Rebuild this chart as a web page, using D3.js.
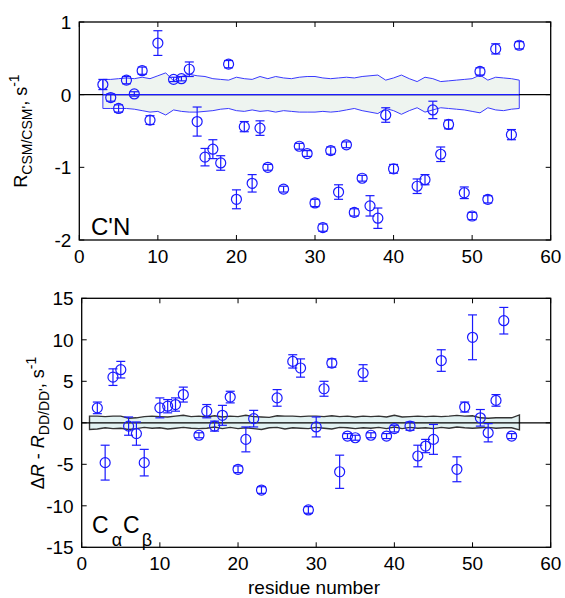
<!DOCTYPE html>
<html lang="en">
<head>
    <meta charset="utf-8">
    <title>CSM cross-correlation rates</title>
    <script type="text/javascript" src="https://d3js.org/d3.v7.min.js"></script>
    <style>
        body { margin: 0; background: #fff; }
        text { font-family: "Liberation Sans", Arial, sans-serif; fill: #000; }
        .tick-label { font-size: 19px; }
        .frame { fill: none; stroke: #000; stroke-width: 1.3; }
        .pt { fill: none; stroke: #1a1aff; stroke-width: 1.2; }
    </style>
</head>
<body>
<div id="container"></div>
<script type="text/javascript">
    // top panel: C'N
    const topRes = [3, 4, 5, 6, 7, 8, 9, 10, 12, 13, 14, 15, 16, 17, 18, 19, 20, 21, 22, 23, 24, 26, 28, 29, 30,
        31, 32, 33, 34, 35, 36, 37, 38, 39, 40, 43, 44, 45, 46, 47, 49, 50, 51, 52, 53, 55, 56];
    const topVal = [0.14, -0.04, -0.19, 0.20, 0.01, 0.33, -0.35, 0.71, 0.21, 0.22, 0.35, -0.37, -0.86, -0.75, -0.94,
        0.42, -1.44, -0.44, -1.22, -0.46, -1.00, -1.30, -0.71, -0.81, -1.49, -1.83, -0.77, -1.34, -0.69, -1.62,
        -1.15, -1.53, -1.70, -0.28, -1.02, -1.26, -1.17, -0.21, -0.82, -0.41, -1.35, -1.67, 0.32, -1.44, 0.63,
        -0.55, 0.68];
    const topErr = [0.07, 0.05, 0.05, 0.05, 0.03, 0.05, 0.06, 0.17, 0.03, 0.03, 0.10, 0.20, 0.12, 0.13, 0.10,
        0.05, 0.13, 0.07, 0.12, 0.10, 0.04, 0.04, 0.04, 0.04, 0.05, 0.05, 0.05, 0.10, 0.04, 0.05,
        0.04, 0.14, 0.14, 0.10, 0.06, 0.10, 0.07, 0.12, 0.10, 0.06, 0.08, 0.05, 0.05, 0.05, 0.07,
        0.07, 0.05];
    // confidence band, residues 3..56
    const topBandUp = [0.21, 0.21, 0.22, 0.23, 0.22, 0.24, 0.22, 0.26, 0.30, 0.19, 0.25, 0.28, 0.26, 0.25, 0.22,
        0.21, 0.20, 0.24, 0.22, 0.21, 0.25, 0.22, 0.25, 0.23, 0.22, 0.24, 0.25, 0.25, 0.23, 0.22,
        0.23, 0.24, 0.23, 0.25, 0.26, 0.27, 0.20, 0.23, 0.27, 0.22, 0.18, 0.24, 0.22, 0.18, 0.19,
        0.20, 0.21, 0.22, 0.27, 0.20, 0.24, 0.23, 0.22, 0.20];
    const topBandLo = [-0.19, -0.19, -0.19, -0.19, -0.20, -0.22, -0.24, -0.23, -0.28, -0.21, -0.23, -0.24, -0.24,
        -0.23, -0.22, -0.20, -0.19, -0.22, -0.23, -0.21, -0.23, -0.22, -0.24, -0.22, -0.23, -0.24, -0.24,
        -0.24, -0.23, -0.24, -0.23, -0.21, -0.19, -0.22, -0.24, -0.26, -0.19, -0.22, -0.27, -0.22, -0.18,
        -0.24, -0.21, -0.18, -0.19, -0.20, -0.21, -0.23, -0.25, -0.18, -0.21, -0.22, -0.20, -0.19];

    // bottom panel: CaCb
    const botRes = [2, 3, 4, 5, 6, 7, 8, 10, 11, 12, 13, 15, 16, 17, 18, 19, 20, 21, 22, 23, 25, 27, 28, 29, 30,
        31, 32, 33, 34, 35, 36, 37, 39, 40, 42, 43, 44, 45, 46, 48, 49, 50, 51, 52, 53, 54, 55];
    const botVal = [1.8, -4.8, 5.5, 6.4, -0.4, -1.3, -4.8, 1.8, 2.0, 2.2, 3.4, -1.5, 1.4, -0.4, 0.9, 3.1, -5.6,
        -2.0, 0.5, -8.1, 3.0, 7.4, 6.6, -10.5, -0.5, 4.1, 7.2, -5.9, -1.6, -1.8, 6.0, -1.5, -1.6, -0.7,
        -0.4, -4.0, -2.8, -2.0, 7.5, -5.6, 1.9, 10.3, 0.6, -1.2, 2.7, 12.3, -1.6];
    const botErr = [0.7, 2.1, 1.0, 1.0, 1.1, 1.4, 1.6, 1.2, 0.8, 0.8, 0.9, 0.3, 0.8, 0.6, 1.2, 0.7, 0.4,
        1.5, 1.0, 0.4, 1.0, 0.8, 1.1, 0.4, 1.2, 0.9, 0.5, 2.0, 0.3, 0.3, 1.0, 0.3, 0.3, 0.4,
        0.5, 1.3, 0.8, 1.8, 1.3, 1.5, 0.6, 2.7, 1.0, 1.1, 0.7, 1.6, 0.3];
    // confidence band, residues 1..56
    const botBandUp = [0.8, 0.8, 0.75, 0.8, 0.8, 0.55, 0.6, 0.75, 0.8, 0.75, 0.7, 0.8, 0.9, 0.75, 0.8, 0.7,
        0.85, 0.7, 0.8, 0.75, 0.9, 0.75, 0.7, 0.65, 0.85, 0.8, 0.8, 0.75, 0.8, 0.8, 0.75, 0.85, 0.75,
        0.8, 0.7, 0.8, 0.75, 0.8, 0.7, 0.9, 0.7, 0.75, 0.8, 0.75, 0.8, 0.75, 0.8, 0.9, 0.8, 0.85, 0.6,
        0.55, 0.6, 0.6, 0.6, 0.95];
    const botBandLo = [-0.8, -0.75, -0.6, -0.7, -0.65, -0.8, -0.7, -0.55, -0.65, -0.6, -0.75, -0.65, -0.55,
        -0.65, -0.7, -0.65, -0.5, -0.7, -0.55, -0.7, -0.6, -0.7, -0.8, -0.6, -0.55, -0.75, -0.6, -0.65,
        -0.7, -0.55, -0.65, -0.75, -0.55, -0.6, -0.7, -0.6, -0.65, -0.55, -0.7, -0.5, -0.7, -0.55, -0.65,
        -0.6, -0.7, -0.55, -0.65, -0.5, -0.6, -0.65, -0.6, -0.55, -0.65, -0.6, -0.6, -0.85];

    const xTicks = [0, 10, 20, 30, 40, 50, 60];
    const topYTicks = [1, 0, -1, -2];
    const botYTicks = [15, 10, 5, 0, -5, -10, -15];

    const w = 565, h = 598;
    const svg = d3.select("div#container").append("svg")
        .attr("width", w).attr("height", h);

    function panel(opt) {
        const x = d3.scaleLinear().domain([0, 60]).range([opt.left, 550.7]);
        const y = d3.scaleLinear().domain(opt.ydom).range([opt.bottom, opt.top]);
        const g = svg.append("g");

        // band
        const bandRes = d3.range(opt.bandStart, opt.bandStart + opt.bandUp.length);
        const band = bandRes.map((r, i) => ({r: r, up: opt.bandUp[i], lo: opt.bandLo[i]}));
        g.append("path")
            .datum(band)
            .attr("d", d3.area().x(d => x(d.r)).y0(d => y(d.lo)).y1(d => y(d.up)))
            .attr("fill", opt.bandFill)
            .attr("stroke", opt.bandStroke)
            .attr("stroke-width", opt.bandWidth);

        // zero line
        g.append("line")
            .attr("x1", x(0)).attr("x2", x(60)).attr("y1", y(0)).attr("y2", y(0))
            .attr("stroke", "#000").attr("stroke-width", 1.2);
        if (opt.blueZero) {
            g.append("line")
                .attr("x1", x(opt.bandStart)).attr("x2", x(bandRes[bandRes.length - 1]))
                .attr("y1", y(0)).attr("y2", y(0))
                .attr("stroke", "#1a1aff").attr("stroke-width", 1.2);
        }

        // error bars + circles
        const pts = opt.res.map((r, i) => ({r: r, v: opt.val[i], e: opt.err[i]}));
        const pg = g.selectAll("g.p").data(pts).enter().append("g").attr("class", "pt");
        pg.append("line")
            .attr("x1", d => x(d.r)).attr("x2", d => x(d.r))
            .attr("y1", d => y(d.v - d.e)).attr("y2", d => y(d.v + d.e));
        pg.append("line")
            .attr("x1", d => x(d.r) - 4.5).attr("x2", d => x(d.r) + 4.5)
            .attr("y1", d => y(d.v + d.e)).attr("y2", d => y(d.v + d.e));
        pg.append("line")
            .attr("x1", d => x(d.r) - 4.5).attr("x2", d => x(d.r) + 4.5)
            .attr("y1", d => y(d.v - d.e)).attr("y2", d => y(d.v - d.e));
        pg.append("circle")
            .attr("cx", d => x(d.r)).attr("cy", d => y(d.v)).attr("r", 5);

        // inward ticks all round (matlab style)
        const tk = 5;
        g.selectAll("line.xt").data(xTicks).enter().append("line")
            .attr("x1", d => x(d)).attr("x2", d => x(d))
            .attr("y1", opt.bottom).attr("y2", opt.bottom - tk).attr("stroke", "#000");
        g.selectAll("line.xt2").data(xTicks).enter().append("line")
            .attr("x1", d => x(d)).attr("x2", d => x(d))
            .attr("y1", opt.top).attr("y2", opt.top + tk).attr("stroke", "#000");
        g.selectAll("line.yt").data(opt.yticks).enter().append("line")
            .attr("x1", opt.left).attr("x2", opt.left + tk)
            .attr("y1", d => y(d)).attr("y2", d => y(d)).attr("stroke", "#000");
        g.selectAll("line.yt2").data(opt.yticks).enter().append("line")
            .attr("x1", 550.7).attr("x2", 550.7 - tk)
            .attr("y1", d => y(d)).attr("y2", d => y(d)).attr("stroke", "#000");

        g.append("rect").attr("class", "frame")
            .attr("x", opt.left).attr("y", opt.top)
            .attr("width", 550.7 - opt.left).attr("height", opt.bottom - opt.top);

        // tick labels
        g.selectAll("text.xl").data(xTicks).enter().append("text")
            .attr("class", "tick-label")
            .attr("x", d => x(d)).attr("y", opt.bottom + 23)
            .attr("text-anchor", "middle")
            .text(d => d);
        g.selectAll("text.yl").data(opt.yticks).enter().append("text")
            .attr("class", "tick-label")
            .attr("x", opt.left - 8).attr("y", d => y(d) + 7)
            .attr("text-anchor", "end")
            .text(d => d);
        return {x: x, y: y};
    }

    panel({
        left: 79.3, top: 22, bottom: 240, ydom: [-2, 1], yticks: topYTicks,
        res: topRes, val: topVal, err: topErr,
        bandStart: 3, bandUp: topBandUp, bandLo: topBandLo,
        bandFill: "#eef4f0", bandStroke: "#3a3aff", bandWidth: 1, blueZero: true
    });
    panel({
        left: 81.7, top: 298.3, bottom: 547.3, ydom: [-15, 15], yticks: botYTicks,
        res: botRes, val: botVal, err: botErr,
        bandStart: 1, bandUp: botBandUp, bandLo: botBandLo,
        bandFill: "#e2f2f2", bandStroke: "#333", bandWidth: 1.4, blueZero: false
    });

    // panel tags
    svg.append("text").attr("x", 91).attr("y", 235).style("font-size", "24px").text("C'N");
    const cc = svg.append("text").attr("x", 92).attr("y", 533).style("font-size", "23px");
    cc.append("tspan").text("C");
    cc.append("tspan").attr("dx", 3).attr("dy", 13).style("font-size", "18px").text("α");
    cc.append("tspan").attr("dx", 1).attr("dy", -13).text("C");
    cc.append("tspan").attr("dx", 2).attr("dy", 13).style("font-size", "18px").text("β");

    // axis titles
    const t1 = svg.append("text")
        .attr("transform", "translate(27,131) rotate(-90)")
        .attr("text-anchor", "middle").style("font-size", "18px");
    t1.append("tspan").text("R");
    t1.append("tspan").attr("dy", 5).style("font-size", "14px").text("CSM/CSM'");
    t1.append("tspan").attr("dy", -5).text(", s");
    t1.append("tspan").attr("dy", -8).style("font-size", "14px").text("-1");

    const t2 = svg.append("text")
        .attr("transform", "translate(43.5,423) rotate(-90)")
        .attr("text-anchor", "middle").style("font-size", "18px");
    t2.append("tspan").text("Δ");
    t2.append("tspan").style("font-style", "italic").text("R");
    t2.append("tspan").text(" - ");
    t2.append("tspan").style("font-style", "italic").text("R");
    t2.append("tspan").attr("dy", 5).style("font-size", "14px").text("DD/DD'");
    t2.append("tspan").attr("dy", -5).text(", s");
    t2.append("tspan").attr("dy", -8).style("font-size", "14px").text("-1");

    svg.append("text").attr("x", 314).attr("y", 594)
        .attr("text-anchor", "middle").style("font-size", "19px")
        .text("residue number");
</script>
</body>
</html>
